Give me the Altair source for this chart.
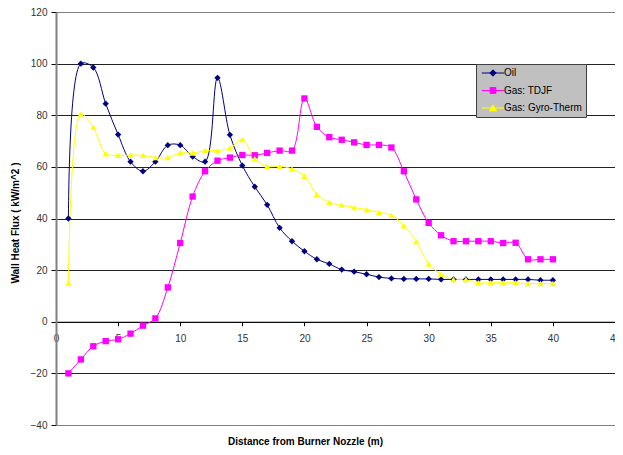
import altair as alt
import pandas as pd

x_vals = list(range(1, 41))
oil = [40, 100, 98.5, 84.5, 72.5, 62, 58.3, 62, 68.4, 68.4,
       64, 62, 94.5, 72.4, 60.5, 52.3, 45.3, 36.4, 31.2, 27.3,
       24.2, 22.4, 20.2, 19.4, 18.4, 17.3, 16.8, 16.6, 16.6, 16.6,
       16.4, 16.4, 16.4, 16.4, 16.4, 16.4, 16.4, 16.4, 16.1, 16.1]
tdjf = [-20, -14.6, -9.5, -7.5, -6.8, -4.6, -1.5, 1.3, 13.3, 30.5,
        48.5, 58.3, 62.4, 63.6, 64.6, 64.5, 65.4, 66.3, 66.3, 86.5,
        75.5, 71.5, 70.5, 69.5, 68.5, 68.5, 67.5, 58.3, 47.4, 38.3,
        33.5, 31.2, 31.2, 31.2, 31.2, 30.5, 30.6, 24.2, 24.2, 24.2]
gyro = [15, 80.5, 75.4, 65.1, 64.5, 64.5, 64.5, 63.6, 63.6, 65.4,
        65.4, 66.3, 66.3, 67.3, 70.6, 63.2, 60.2, 60.2, 59.2, 56.4,
        49.4, 46.3, 45.2, 44.3, 43.4, 42.4, 41.3, 37.2, 31.1, 22.4,
        18.4, 16.4, 16.4, 15.1, 15.1, 15.1, 15.1, 14.8, 14.8, 14.8]

series_names = ["Oil", "Gas: TDJF", "Gas: Gyro-Therm"]
series_colors = ["#000080", "#FF00FF", "#FFFF00"]
series_shapes = ["diamond", "square", "triangle-up"]
# legend symbols: short line with marker on it
legend_paths = [
    "M-1,0H6M2.5,-1L3.5,0L2.5,1L1.5,0Z",
    "M-1,0H6M1.6,-0.9H3.4V0.9H1.6Z",
    "M-1,0H6M2.5,-1L3.6,0.9H1.4Z",
]
x_ticks = [0, 5, 10, 15, 20, 25, 30, 35, 40, 45]
y_ticks = [-40, -20, 0, 20, 40, 60, 80, 100, 120]

rows = []
for name, vals in zip(series_names, [oil, tdjf, gyro]):
    for xv, yv in zip(x_vals, vals):
        rows.append({"x": xv, "y": yv, "series": name})
df = pd.DataFrame(rows)

W, H = 559, 413
zero_from_bottom = H * 40 / 160
FONT = "Liberation Sans"

color_scale = alt.Scale(domain=series_names, range=series_colors)

x_enc = alt.X(
    "x:Q",
    scale=alt.Scale(domain=[0, 45], nice=False, zero=False),
    axis=alt.Axis(
        values=x_ticks, offset=-zero_from_bottom, grid=False,
        domainColor="#000000", domainWidth=1,
        tickColor="#000000", tickSize=4, labelPadding=8,
        labelFontSize=10, labelColor="#333333", labelFlush=False, labelFont=FONT,
        title="Distance from Burner Nozzle (m)", titleFontSize=10,
        titleFontWeight="bold", titleColor="#000000", titleFont=FONT,
        titleX=249, titleY=zero_from_bottom + 16, titleBaseline="middle", titleAlign="center",
    ),
)
y_enc = alt.Y(
    "y:Q",
    scale=alt.Scale(domain=[-40, 120], nice=False, zero=False),
    axis=alt.Axis(
        values=y_ticks, grid=True,
        gridColor={"condition": {"test": "datum.value === 120 || datum.value === -40",
                                 "value": "#808080"}, "value": "#222222"},
        gridWidth=1,
        domainColor="#808080", domainWidth=2,
        tickColor="#000000", tickSize=5, labelPadding=4,
        labelFontSize=10, labelColor="#333333", labelFlush=False, labelFont=FONT,
        title="Wall Heat Flux ( kW/m^2 )", titleFontSize=10, titleFont=FONT,
        titleFontWeight="bold", titleColor="#000000",
        titleX=-41, titleY=H / 2 + 4, titleAngle=270,
        titleBaseline="middle", titleAlign="center",
    ),
)

base = alt.Chart(df)

lines = base.mark_line(interpolate="catmull-rom", strokeWidth=1).encode(
    x=x_enc, y=y_enc,
    color=alt.Color("series:N", scale=color_scale, legend=None),
    detail="series:N",
)

points = base.mark_point(filled=True, size=40, opacity=1).encode(
    x=x_enc, y=y_enc,
    color=alt.Color("series:N", scale=color_scale, legend=None),
    shape=alt.Shape("series:N", scale=alt.Scale(domain=series_names, range=series_shapes), legend=None),
)

leg = alt.Legend(
    orient="none", legendX=420, legendY=52, title=None,
    padding=4, rowPadding=6.5, labelOffset=14,
    labelFontSize=10, labelFont=FONT, labelColor="#000000",
    strokeColor="#404040", fillColor="#C0C0C0",
    symbolSize=41, symbolStrokeWidth=1,
)

legend_layer = base.transform_filter("false").mark_point(size=41, opacity=1, strokeWidth=1).encode(
    x=x_enc, y=y_enc,
    fill=alt.Fill("series:N", scale=alt.Scale(domain=series_names, range=series_colors), legend=leg),
    stroke=alt.Stroke("series:N", scale=alt.Scale(domain=series_names, range=series_colors), legend=leg),
    shape=alt.Shape("series:N", scale=alt.Scale(domain=series_names, range=legend_paths), legend=leg),
)

chart = alt.layer(lines, points, legend_layer).resolve_scale(
    shape="independent", fill="independent", stroke="independent"
).properties(
    width=W, height=H,
    padding={"left": 48, "top": 4, "right": 0, "bottom": 22},
    autosize=alt.AutoSizeParams(type="none"),
    background="#FFFFFF",
).configure_view(
    fill="#C0C0C0", stroke="transparent"
).configure(font=FONT)

chart.save("out.html", embed_options={"renderer": "svg", "actions": False})
